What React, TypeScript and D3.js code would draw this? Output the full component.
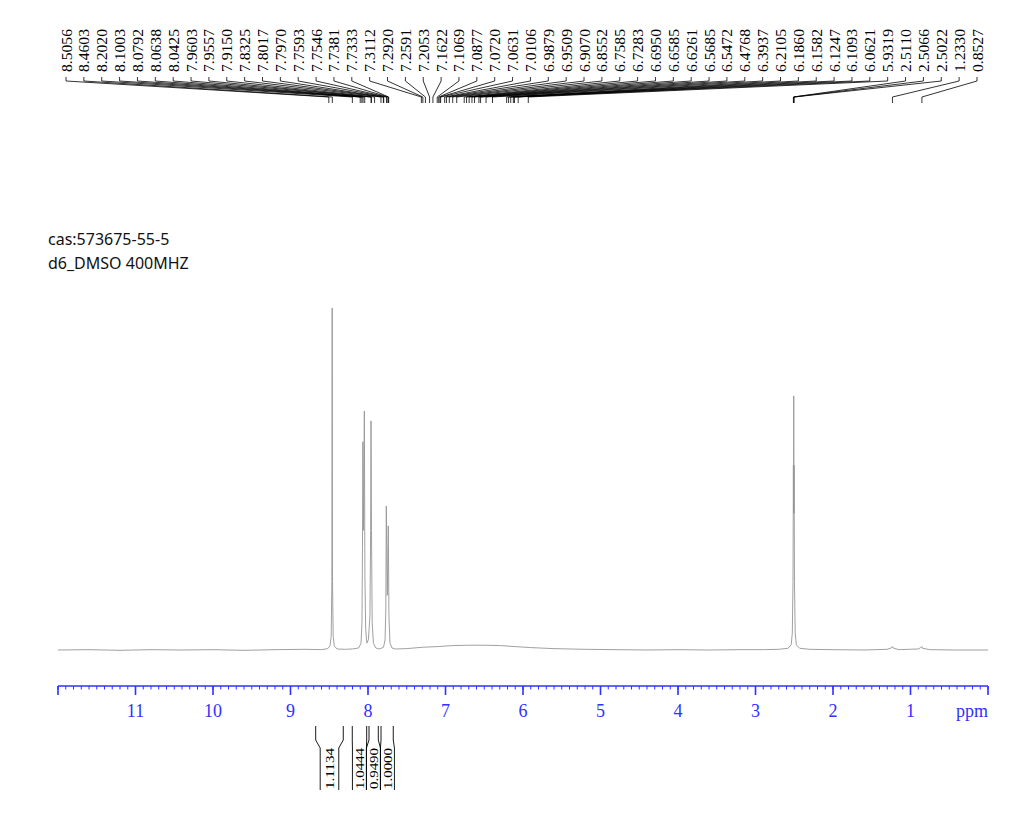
import * as d3 from "d3"

// sample info
const titleLines = ["cas:573675-55-5", "d6_DMSO 400MHZ"]

// spectrum trace, [ppm, relative intensity]
const spectrum: [number, number][] = [
  [12.0, 0], [11.6, 0.1], [11.2, -0.1], [10.8, 0.1], [10.4, 0], [10.0, 0.1],
  [9.6, -0.1], [9.2, 0.1], [8.8, 0.2], [8.6, 0.1], [8.52, 0.4], [8.49, 1.2],
  [8.475, 4], [8.466, 20], [8.462, 100], [8.458, 20], [8.449, 4], [8.435, 1.2],
  [8.4, 0.3], [8.3, 0.2], [8.2, 0.3], [8.12, 0.6], [8.09, 2], [8.078, 8],
  [8.071, 30], [8.066, 60.9], [8.058, 35], [8.047, 69.9], [8.04, 22], [8.03, 6],
  [8.015, 2], [7.995, 3], [7.975, 10], [7.966, 35], [7.961, 67], [7.955, 35],
  [7.946, 8], [7.93, 2], [7.9, 0.6], [7.85, 0.3], [7.8, 0.8], [7.78, 3],
  [7.77, 12], [7.764, 42.1], [7.751, 16], [7.738, 36.3], [7.73, 10], [7.716, 2],
  [7.69, 0.6], [7.65, 0.3], [7.5, 0.4], [7.3, 0.8], [7.1, 1.0], [6.9, 1.3],
  [6.7, 1.4], [6.5, 1.4], [6.3, 1.3], [6.1, 1.0], [5.9, 0.7], [5.6, 0.4],
  [5.2, 0.2], [4.8, 0.1], [4.4, 0], [4.0, 0.1], [3.6, 0], [3.2, 0.1],
  [2.9, 0.1], [2.7, 0.2], [2.58, 0.5], [2.54, 1.5], [2.525, 5], [2.516, 20],
  [2.511, 54], [2.509, 40], [2.5066, 74.3], [2.504, 40], [2.5022, 54], [2.497, 20],
  [2.488, 5], [2.473, 1.5], [2.43, 0.5], [2.3, 0.2], [2.0, 0.1], [1.6, 0],
  [1.3, 0.2], [1.24, 0.7], [1.233, 1.0], [1.225, 0.6], [1.15, 0.1], [0.9, 0.3],
  [0.86, 0.8], [0.8527, 1.0], [0.845, 0.5], [0.75, 0.1], [0.4, 0], [0.0, 0],
]

// picked peaks
const peakLabels = [
  8.5056, 8.4603, 8.202, 8.1003, 8.0792, 8.0638, 8.0425, 7.9603, 7.9557, 7.915,
  7.8325, 7.8017, 7.797, 7.7593, 7.7546, 7.7381, 7.7333, 7.3112, 7.292, 7.2591,
  7.2053, 7.1622, 7.1069, 7.0877, 7.072, 7.0631, 7.0106, 6.9879, 6.9509, 6.907,
  6.8552, 6.7585, 6.7283, 6.695, 6.6585, 6.6261, 6.5685, 6.5472, 6.4768, 6.3937,
  6.2105, 6.186, 6.1582, 6.1247, 6.1093, 6.0621, 5.9319, 2.511, 2.5066, 2.5022,
  1.233, 0.8527,
]

// integrals
const integralFrom = [8.675, 8.203, 7.987, 7.832]
const integralTo = [8.319, 8.017, 7.867, 7.674]
const integralValues = ["1.1134", "1.0444", "0.9490", "1.0000"]

// axis labels
const axisTicks = [11, 10, 9, 8, 7, 6, 5, 4, 3, 2, 1]

const W = 1016
const H = 822
const serif = "'Times New Roman', 'Liberation Serif', serif"
const axisColor = "#3030ff"

export default function App() {
  const x = d3.scaleLinear().domain([12, 0]).range([58, 988])
  const y = d3.scaleLinear().domain([0, 100]).range([650, 308])

  const line = d3
    .line<[number, number]>()
    .x((d) => x(d[0]))
    .y((d) => y(d[1]))

  // label slots spread evenly across the top
  const slot = d3
    .scalePoint<number>()
    .domain(d3.range(peakLabels.length))
    .range([66, 977])

  // integral label boxes, pushed apart when they collide
  const boxes = integralFrom.map((f, i) => {
    const x1 = x(f)
    const x2 = x(integralTo[i])
    return { x1, x2, mid: (x1 + x2) / 2, hw: Math.max((x2 - x1) / 2 - 4.5, 7) }
  })
  for (let pass = 0; pass < 10; pass++) {
    for (let i = 1; i < boxes.length; i++) {
      const a = boxes[i - 1]
      const b = boxes[i]
      const overlap = a.mid + a.hw - (b.mid - b.hw)
      if (overlap > 0) {
        a.mid -= overlap / 2
        b.mid += overlap / 2
      }
    }
  }

  const axisY = 686
  const minor = d3.range(0, 121).map((i) => i / 10)
  const major = d3.range(0, 13)

  return (
    <svg
      width={W}
      height={H}
      style={{ position: "absolute", left: 0, top: 0, background: "#fff" }}
    >
      {/* peak labels */}
      <g fontFamily={serif} fontSize={14} fill="#000">
        {peakLabels.map((p, i) => {
          const lx = slot(i) as number
          const px = x(p)
          return (
            <g key={i}>
              <text
                transform={`translate(${lx + 5.5},72) rotate(-90)`}
                textLength={43}
                lengthAdjust="spacingAndGlyphs"
              >
                {p.toFixed(4)}
              </text>
              <path
                d={`M${lx},77V81L${px},97V103`}
                fill="none"
                stroke="#000"
                strokeWidth={0.8}
              />
            </g>
          )
        })}
      </g>

      {/* sample info */}
      <g fontFamily="'Noto Sans', 'Open Sans', sans-serif" fontSize={16} fill="#111">
        {titleLines.map((t, i) => (
          <text key={i} x={48} y={245 + i * 24}>
            {t}
          </text>
        ))}
      </g>

      {/* spectrum */}
      <path d={line(spectrum) ?? ""} fill="none" stroke="#959595" strokeWidth={0.9} />

      {/* ppm axis */}
      <g stroke={axisColor}>
        <line x1={x(12)} x2={x(0)} y1={axisY} y2={axisY} strokeWidth={1.3} />
        {minor.map((v) => (
          <line key={v} x1={x(v)} x2={x(v)} y1={axisY} y2={axisY + 3.5} strokeWidth={1} />
        ))}
        {major.map((v) => (
          <line key={v} x1={x(v)} x2={x(v)} y1={axisY} y2={axisY + 9} strokeWidth={1.6} />
        ))}
      </g>
      <g fontFamily={serif} fontSize={18} fill={axisColor} textAnchor="middle">
        {axisTicks.map((v) => (
          <text key={v} x={x(v)} y={717}>
            {v}
          </text>
        ))}
        <text x={x(0)} y={717} textAnchor="end">
          ppm
        </text>
      </g>

      {/* integrals */}
      <g fontFamily={serif} fontSize={13.5} fill="#000">
        {boxes.map((b, i) => (
          <g key={i}>
            <path
              d={`M${b.x1},726V740L${b.mid - b.hw},748V790M${b.x2},726V740L${b.mid + b.hw},748V790`}
              fill="none"
              stroke="#000"
              strokeWidth={0.9}
            />
            <text
              transform={`translate(${b.mid + 4.5},789) rotate(-90)`}
              textLength={41}
              lengthAdjust="spacingAndGlyphs"
            >
              {integralValues[i]}
            </text>
          </g>
        ))}
      </g>
    </svg>
  )
}
